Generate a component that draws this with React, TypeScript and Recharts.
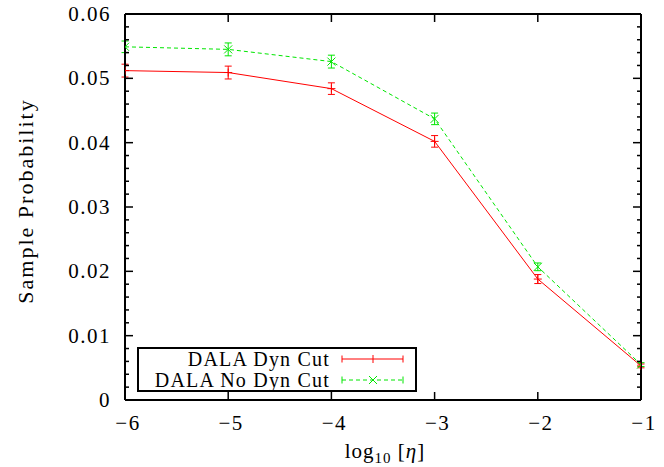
import { LineChart, Line, XAxis, YAxis, ErrorBar, Legend } from "recharts";

// log10(eta) positions
const etaLog = [-6, -5, -4, -3, -2, -1];

// DALA Dyn Cut
const dynCut = [0.0512, 0.0509, 0.0484, 0.0402, 0.0188, 0.0053];
const dynCutErr = [0.001, 0.001, 0.0009, 0.0009, 0.0007, 0.0003];

// DALA No Dyn Cut
const noDynCut = [0.0549, 0.0545, 0.0526, 0.0437, 0.0207, 0.0055];
const noDynCutErr = [0.0009, 0.001, 0.001, 0.0009, 0.0006, 0.0003];

const seriesNames = ["DALA Dyn Cut", "DALA No Dyn Cut"];

const xTicks = [-6, -5, -4, -3, -2, -1];
const yTicks = [
  0, 0.002, 0.004, 0.006, 0.008, 0.01, 0.012, 0.014, 0.016, 0.018, 0.02,
  0.022, 0.024, 0.026, 0.028, 0.03, 0.032, 0.034, 0.036, 0.038, 0.04,
  0.042, 0.044, 0.046, 0.048, 0.05, 0.052, 0.054, 0.056, 0.058, 0.06,
];

const data = etaLog.map((x, i) => ({
  x,
  dyn: dynCut[i],
  dynErr: dynCutErr[i],
  noDyn: noDynCut[i],
  noDynErr: noDynCutErr[i],
}));

const FONT = "'Liberation Serif', 'Times New Roman', serif";
const RED = "#ff0000";
const GREEN = "#00e600";

const isMajor = (v: number) => Math.round(v * 1000) % 10 === 0;
const yLabel = (v: number) => (v === 0 ? "0" : v.toFixed(2));
const xLabel = (v: number) => (v < 0 ? "\u2212" + Math.abs(v) : String(v));

const LeftTick = ({ x, y, payload }: any) => {
  const major = isMajor(payload.value);
  return (
    <g>
      <line x1={x} x2={x + (major ? 8 : 4)} y1={y} y2={y} stroke="#000" strokeWidth={1.5} />
      {major && (
        <text x={x - 14} y={y} textAnchor="end" dominantBaseline="central" fontFamily={FONT} fontSize={21} letterSpacing={1.5} fill="#000">
          {yLabel(payload.value)}
        </text>
      )}
    </g>
  );
};

const RightTick = ({ x, y, payload }: any) => {
  const major = isMajor(payload.value);
  return <line x1={x} x2={x - (major ? 8 : 4)} y1={y} y2={y} stroke="#000" strokeWidth={1.5} />;
};

const BottomTick = ({ x, y, payload }: any) => (
  <g>
    <line x1={x} x2={x} y1={y} y2={y - 8} stroke="#000" strokeWidth={1.5} />
    <text x={x + 3} y={y + 23} textAnchor="middle" dominantBaseline="central" fontFamily={FONT} fontSize={21} letterSpacing={1.5} fill="#000">
      {xLabel(payload.value)}
    </text>
  </g>
);

const TopTick = ({ x, y }: any) => (
  <line x1={x} x2={x} y1={y} y2={y + 8} stroke="#000" strokeWidth={1.5} />
);

const PlusDot = ({ cx, cy }: any) => (
  <path d={`M${cx - 4},${cy}h8M${cx},${cy - 4}v8`} stroke={RED} strokeWidth={1} fill="none" />
);

const CrossDot = ({ cx, cy }: any) => (
  <path d={`M${cx - 4},${cy - 4}l8,8M${cx - 4},${cy + 4}l8,-8`} stroke={GREEN} strokeWidth={1} fill="none" />
);

const LegendBox = () => (
  <svg width={281} height={46} style={{ display: "block" }}>
    <rect x={1} y={1} width={278} height={43} fill="#fff" stroke="#000" strokeWidth={2} />
    <text x={193} y={12} textAnchor="end" dominantBaseline="central" fontFamily={FONT} fontSize={20} letterSpacing={1.2}>
      {seriesNames[0]}
    </text>
    <text x={193} y={33} textAnchor="end" dominantBaseline="central" fontFamily={FONT} fontSize={20} letterSpacing={1.2}>
      {seriesNames[1]}
    </text>
    <g stroke={RED} strokeWidth={1}>
      <line x1={205} x2={266} y1={12} y2={12} />
      <line x1={205} x2={205} y1={8.5} y2={15.5} />
      <line x1={266} x2={266} y1={8.5} y2={15.5} />
      <line x1={236} x2={236} y1={8} y2={16} />
    </g>
    <g stroke={GREEN} strokeWidth={1}>
      <line x1={205} x2={266} y1={33} y2={33} strokeDasharray="4 3" />
      <line x1={205} x2={205} y1={29.5} y2={36.5} />
      <line x1={266} x2={266} y1={29.5} y2={36.5} />
      <path d="M232,29l8,8M232,37l8,-8" fill="none" />
    </g>
  </svg>
);

export default function App() {
  return (
    <div style={{ position: "absolute", left: 0, top: 0, background: "#fff" }}>
      <LineChart width={664} height={467} data={data} margin={{ top: 10, right: 13, bottom: 0, left: 0 }}>
        <XAxis
          dataKey="x"
          type="number"
          domain={[-6, -1]}
          ticks={xTicks}
          interval={0}
          height={67}
          tickSize={0}
          tickMargin={0}
          tickLine={false}
          axisLine={{ stroke: "#000", strokeWidth: 2 }}
          tick={<BottomTick />}
          allowDataOverflow
        />
        <XAxis
          xAxisId="top"
          dataKey="x"
          type="number"
          orientation="top"
          domain={[-6, -1]}
          ticks={xTicks}
          interval={0}
          height={4}
          tickSize={0}
          tickMargin={0}
          tickLine={false}
          axisLine={{ stroke: "#000", strokeWidth: 2 }}
          tick={<TopTick />}
          allowDataOverflow
        />
        <YAxis
          type="number"
          domain={[0, 0.06]}
          ticks={yTicks}
          interval={0}
          width={125}
          tickSize={0}
          tickMargin={0}
          tickLine={false}
          axisLine={{ stroke: "#000", strokeWidth: 2 }}
          tick={<LeftTick />}
          allowDataOverflow
        />
        <YAxis
          yAxisId="right"
          orientation="right"
          type="number"
          domain={[0, 0.06]}
          ticks={yTicks}
          interval={0}
          width={10}
          tickSize={0}
          tickMargin={0}
          tickLine={false}
          axisLine={{ stroke: "#000", strokeWidth: 2 }}
          tick={<RightTick />}
          allowDataOverflow
        />
        <Legend
          layout="horizontal"
          verticalAlign="middle"
          align="center"
          wrapperStyle={{ left: 137, top: 347, width: 281, height: 46 }}
          content={<LegendBox />}
        />
        <Line
          name={seriesNames[0]}
          dataKey="dyn"
          stroke={RED}
          strokeWidth={1}
          dot={<PlusDot />}
          activeDot={false}
          isAnimationActive={false}
        >
          <ErrorBar dataKey="dynErr" direction="y" width={3.5} stroke={RED} strokeWidth={1} />
        </Line>
        <Line
          name={seriesNames[1]}
          dataKey="noDyn"
          stroke={GREEN}
          strokeWidth={1}
          strokeDasharray="4 3"
          dot={<CrossDot />}
          activeDot={false}
          isAnimationActive={false}
        >
          <ErrorBar dataKey="noDynErr" direction="y" width={3.5} stroke={GREEN} strokeWidth={1} />
        </Line>
        <text
          x={25}
          y={201}
          transform="rotate(-90 25 201)"
          textAnchor="middle"
          dominantBaseline="central"
          fontFamily={FONT}
          fontSize={22}
          letterSpacing={2}
        >
          Sample Probability
        </text>
        <text x={385} y={458} textAnchor="middle" fontFamily={FONT} fontSize={21} letterSpacing={1}>
          log
          <tspan fontSize={15} dy={5}>10</tspan>
          <tspan dy={-5}> [</tspan>
          <tspan fontStyle="italic">η</tspan>]
        </text>
      </LineChart>
    </div>
  );
}
